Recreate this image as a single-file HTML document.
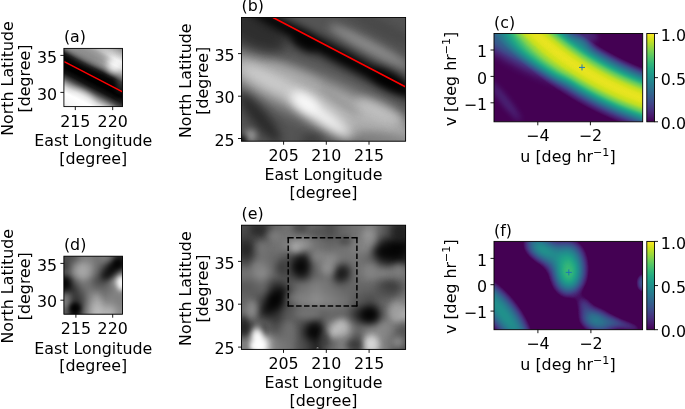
<!DOCTYPE html>
<html><head><meta charset="utf-8"><title>figure</title>
<style>html,body{margin:0;padding:0;background:#fff}svg{display:block}
text{font-family:"DejaVu Sans","Liberation Sans",sans-serif;font-size:15.85px;fill:#000}
.c{text-anchor:middle}.r{text-anchor:end}
.fr{fill:none;stroke:#000;stroke-width:0.9}
.tk{stroke:#000;stroke-width:0.9;fill:none}
</style></head><body>
<svg width="685" height="409" viewBox="0 0 685 409">
<rect width="685" height="409" fill="#fff"/>
<defs>
<filter id="vir" color-interpolation-filters="sRGB" x="0" y="0" width="1" height="1"><feComponentTransfer><feFuncR type="table" tableValues="0.267 0.283 0.277 0.254 0.222 0.191 0.164 0.139 0.121 0.135 0.208 0.328 0.478 0.647 0.825 0.993"/><feFuncG type="table" tableValues="0.005 0.100 0.185 0.265 0.339 0.407 0.471 0.534 0.596 0.659 0.719 0.774 0.821 0.858 0.885 0.906"/><feFuncB type="table" tableValues="0.329 0.422 0.490 0.530 0.549 0.556 0.558 0.555 0.544 0.518 0.473 0.407 0.318 0.210 0.106 0.144"/></feComponentTransfer></filter>
<filter id="virt" color-interpolation-filters="sRGB" x="0" y="0" width="1" height="1"><feComponentTransfer><feFuncR type="table" tableValues="0.267 0.267 0.267 0.267 0.267 0.267 0.283 0.277 0.254 0.222 0.191 0.164 0.139 0.121 0.135 0.208 0.328 0.478 0.647 0.825 0.993"/><feFuncG type="table" tableValues="0.005 0.005 0.005 0.005 0.005 0.005 0.100 0.185 0.265 0.339 0.407 0.471 0.534 0.596 0.659 0.719 0.774 0.821 0.858 0.885 0.906"/><feFuncB type="table" tableValues="0.329 0.329 0.329 0.329 0.329 0.329 0.422 0.490 0.530 0.549 0.556 0.558 0.555 0.544 0.518 0.473 0.407 0.318 0.210 0.106 0.144"/></feComponentTransfer></filter>
<filter id="b2" color-interpolation-filters="sRGB" x="-1" y="-1" width="3" height="3"><feGaussianBlur stdDeviation="2"/></filter>
<filter id="b3" color-interpolation-filters="sRGB" x="-1" y="-1" width="3" height="3"><feGaussianBlur stdDeviation="3"/></filter>
<filter id="b4" color-interpolation-filters="sRGB" x="-1" y="-1" width="3" height="3"><feGaussianBlur stdDeviation="4"/></filter>
<filter id="b5" color-interpolation-filters="sRGB" x="-1" y="-1" width="3" height="3"><feGaussianBlur stdDeviation="5"/></filter>
<filter id="b6" color-interpolation-filters="sRGB" x="-1" y="-1" width="3" height="3"><feGaussianBlur stdDeviation="6"/></filter>
<filter id="b7" color-interpolation-filters="sRGB" x="-1" y="-1" width="3" height="3"><feGaussianBlur stdDeviation="7"/></filter>
<filter id="b8" color-interpolation-filters="sRGB" x="-1" y="-1" width="3" height="3"><feGaussianBlur stdDeviation="8"/></filter>
<filter id="b9" color-interpolation-filters="sRGB" x="-1" y="-1" width="3" height="3"><feGaussianBlur stdDeviation="9"/></filter>
<filter id="b10" color-interpolation-filters="sRGB" x="-1" y="-1" width="3" height="3"><feGaussianBlur stdDeviation="10"/></filter>
<filter id="b12" color-interpolation-filters="sRGB" x="-1" y="-1" width="3" height="3"><feGaussianBlur stdDeviation="12"/></filter>
<clipPath id="cpa"><rect x="63.9" y="48.4" width="58.6" height="58.2"/></clipPath>
<clipPath id="cpb"><rect x="241.5" y="17.5" width="164.1" height="123.7"/></clipPath>
<clipPath id="cpc"><rect x="494" y="33.5" width="148.7" height="88.3"/></clipPath>
<clipPath id="cpd"><rect x="63.9" y="256.2" width="58.6" height="58"/></clipPath>
<clipPath id="cpe"><rect x="241.5" y="225.2" width="164.1" height="124.2"/></clipPath>
<clipPath id="cpf"><rect x="494" y="241.4" width="148.6" height="88.3"/></clipPath>
<linearGradient id="ga" gradientUnits="userSpaceOnUse" x1="71.35" y1="119.44" x2="114.53" y2="35.94"><stop offset="0.0000" stop-color="#adadad"/><stop offset="0.0638" stop-color="#d9d9d9"/><stop offset="0.1277" stop-color="#f7f7f7"/><stop offset="0.2234" stop-color="#ffffff"/><stop offset="0.2766" stop-color="#d9d9d9"/><stop offset="0.3191" stop-color="#999999"/><stop offset="0.3617" stop-color="#4c4c4c"/><stop offset="0.4043" stop-color="#141414"/><stop offset="0.4574" stop-color="#000000"/><stop offset="0.5106" stop-color="#000000"/><stop offset="0.5638" stop-color="#080808"/><stop offset="0.5957" stop-color="#1a1a1a"/><stop offset="0.6383" stop-color="#737373"/><stop offset="0.6809" stop-color="#bfbfbf"/><stop offset="0.7234" stop-color="#f2f2f2"/><stop offset="0.7872" stop-color="#f2f2f2"/><stop offset="0.8511" stop-color="#bfbfbf"/><stop offset="0.9149" stop-color="#8c8c8c"/><stop offset="1.0000" stop-color="#737373"/></linearGradient>
<radialGradient id="gc" gradientUnits="userSpaceOnUse" cx="742.9" cy="-189.2" r="364.7"><stop offset="0.67096" stop-color="#000000"/><stop offset="0.75596" stop-color="#000000"/><stop offset="0.76419" stop-color="#1f1f1f"/><stop offset="0.77104" stop-color="#404040"/><stop offset="0.78613" stop-color="#808080"/><stop offset="0.80121" stop-color="#bfbfbf"/><stop offset="0.81492" stop-color="#e6e6e6"/><stop offset="0.82588" stop-color="#f4f4f4"/><stop offset="0.83548" stop-color="#f7f7f7"/><stop offset="0.84508" stop-color="#f4f4f4"/><stop offset="0.85742" stop-color="#e6e6e6"/><stop offset="0.87113" stop-color="#bfbfbf"/><stop offset="0.88566" stop-color="#808080"/><stop offset="0.89992" stop-color="#404040"/><stop offset="0.90814" stop-color="#1f1f1f"/><stop offset="0.91911" stop-color="#000000"/><stop offset="1.00000" stop-color="#000000"/></radialGradient>
<linearGradient id="gcb" x1="0" y1="1" x2="0" y2="0"><stop offset="0" stop-color="#000"/><stop offset="1" stop-color="#fff"/></linearGradient>
</defs>
<g clip-path="url(#cpa)"><rect x="62.9" y="47.4" width="60.6" height="60.2" fill="url(#ga)"/><g transform="translate(63.9,48.4)"><ellipse cx="24" cy="4" rx="25" ry="9" transform="rotate(27 24 4)" fill="#787878" opacity="0.8" filter="url(#b4)"/>
<ellipse cx="57" cy="30" rx="3" ry="14" transform="rotate(0 57 30)" fill="#8c8c8c" opacity="0.5" filter="url(#b3)"/>
<ellipse cx="50" cy="18" rx="6" ry="7" transform="rotate(20 50 18)" fill="#ffffff" opacity="0.6" filter="url(#b3)"/>
<ellipse cx="18" cy="50" rx="12" ry="7" transform="rotate(27 18 50)" fill="#ffffff" opacity="0.5" filter="url(#b3)"/>
<ellipse cx="57" cy="57" rx="5" ry="5" transform="rotate(0 57 57)" fill="#333333" opacity="0.5" filter="url(#b3)"/>
</g></g>
<g clip-path="url(#cpa)"><line x1="64.2" y1="61.7" x2="122.6" y2="91.9" stroke="#f00" stroke-width="1.5"/></g>
<rect class="fr" x="63.9" y="48.4" width="58.6" height="58.2"/>
<line class="tk" x1="75.3" y1="106.6" x2="75.3" y2="110.1"/>
<text class="c" x="75.3" y="126.7">215</text>
<line class="tk" x1="112.7" y1="106.6" x2="112.7" y2="110.1"/>
<text class="c" x="112.7" y="126.7">220</text>
<line class="tk" x1="60.4" y1="55.4" x2="63.9" y2="55.4"/>
<text class="r" x="57.1" y="62.6">35</text>
<line class="tk" x1="60.4" y1="92.4" x2="63.9" y2="92.4"/>
<text class="r" x="57.1" y="99.6">30</text>
<text x="63.9" y="42.1">(a)</text>
<text class="c" x="93.3" y="146.1">East Longitude</text>
<text class="c" x="93.3" y="163.8">[degree]</text>
<text class="c" transform="translate(12.5,78.5) rotate(-90)">North Latitude</text>
<text class="c" transform="translate(29.6,78.5) rotate(-90)">[degree]</text>
<g clip-path="url(#cpb)"><rect x="240.5" y="16.5" width="166.1" height="125.7" fill="#545454"/><g transform="translate(241.5,17.5)"><ellipse cx="80" cy="84" rx="115" ry="21" transform="rotate(23 80 84)" fill="#b8b8b8" opacity="0.92" filter="url(#b8)"/>
<ellipse cx="128" cy="29" rx="46" ry="6.5" transform="rotate(27.7 128 29)" fill="#949494" opacity="0.85" filter="url(#b4)"/>
<ellipse cx="140" cy="10" rx="44" ry="7" transform="rotate(27.7 140 10)" fill="#404040" opacity="0.6" filter="url(#b5)"/>
<ellipse cx="12" cy="12" rx="36" ry="17" transform="rotate(27.7 12 12)" fill="#2b2b2b" opacity="0.9" filter="url(#b6)"/>
<ellipse cx="30" cy="64" rx="36" ry="8" transform="rotate(27 30 64)" fill="#d9d9d9" opacity="0.7" filter="url(#b6)"/>
<ellipse cx="80" cy="98" rx="38" ry="8" transform="rotate(36 80 98)" fill="#ffffff" opacity="0.9" filter="url(#b6)"/>
<ellipse cx="64" cy="85" rx="14" ry="8" transform="rotate(32 64 85)" fill="#ffffff" opacity="0.7" filter="url(#b5)"/>
<ellipse cx="53" cy="56" rx="30" ry="4" transform="rotate(22 53 56)" fill="#b8b8b8" opacity="0.5" filter="url(#b4)"/>
<ellipse cx="138" cy="94" rx="26" ry="8" transform="rotate(25 138 94)" fill="#cccccc" opacity="0.75" filter="url(#b5)"/>
<ellipse cx="98" cy="84" rx="24" ry="3" transform="rotate(33 98 84)" fill="#737373" opacity="0.4" filter="url(#b3)"/>
<ellipse cx="100" cy="39.5" rx="115" ry="8" transform="rotate(27.7 100 39.5)" fill="#000000" opacity="0.97" filter="url(#b4)"/>
<ellipse cx="63" cy="26" rx="14" ry="7" transform="rotate(27.7 63 26)" fill="#000000" opacity="0.8" filter="url(#b4)"/>
<ellipse cx="148" cy="63" rx="20" ry="8" transform="rotate(27.7 148 63)" fill="#000000" opacity="0.85" filter="url(#b4)"/>
<ellipse cx="18" cy="100" rx="32" ry="8" transform="rotate(50 18 100)" fill="#262626" opacity="0.9" filter="url(#b5)"/>
<ellipse cx="9" cy="118" rx="6" ry="6" transform="rotate(0 9 118)" fill="#a6a6a6" opacity="0.8" filter="url(#b3)"/>
<ellipse cx="0" cy="123" rx="5" ry="5" transform="rotate(0 0 123)" fill="#000000" opacity="0.95" filter="url(#b3)"/>
<ellipse cx="70" cy="122" rx="11" ry="5" transform="rotate(0 70 122)" fill="#333333" opacity="0.75" filter="url(#b4)"/>
<ellipse cx="145" cy="121" rx="28" ry="6" transform="rotate(8 145 121)" fill="#6b6b6b" opacity="0.6" filter="url(#b5)"/>
</g></g>
<g clip-path="url(#cpb)"><line x1="273" y1="17.5" x2="405.3" y2="86.7" stroke="#f00" stroke-width="1.6"/></g>
<rect class="fr" x="241.5" y="17.5" width="164.1" height="123.7"/>
<line class="tk" x1="283.6" y1="141.2" x2="283.6" y2="144.7"/>
<text class="c" x="283.6" y="160.8">205</text>
<line class="tk" x1="326.3" y1="141.2" x2="326.3" y2="144.7"/>
<text class="c" x="326.3" y="160.8">210</text>
<line class="tk" x1="369" y1="141.2" x2="369" y2="144.7"/>
<text class="c" x="369" y="160.8">215</text>
<line class="tk" x1="238" y1="53.6" x2="241.5" y2="53.6"/>
<text class="r" x="234.7" y="60.8">35</text>
<line class="tk" x1="238" y1="96.2" x2="241.5" y2="96.2"/>
<text class="r" x="234.7" y="103.4">30</text>
<line class="tk" x1="238" y1="138.5" x2="241.5" y2="138.5"/>
<text class="r" x="234.7" y="145.7">25</text>
<text x="241.5" y="11.4">(b)</text>
<text class="c" x="323.4" y="180">East Longitude</text>
<text class="c" x="323.4" y="197.8">[degree]</text>
<text class="c" transform="translate(190.6,80.7) rotate(-90)">North Latitude</text>
<text class="c" transform="translate(207.8,80.7) rotate(-90)">[degree]</text>
<g clip-path="url(#cpc)"><g filter="url(#vir)"><rect x="493" y="32.5" width="150.7" height="90.3" fill="url(#gc)"/><g transform="translate(494,33.5)"><ellipse cx="28" cy="12.9893" rx="52" ry="5" transform="rotate(27.7 28 12.9893)" fill="#ffffff" opacity="0.42" filter="url(#b6)"/>
<ellipse cx="26" cy="22.1035" rx="52" ry="7" transform="rotate(27.7 26 22.1035)" fill="#ffffff" opacity="0.3" filter="url(#b6)"/>
<ellipse cx="11" cy="67.5" rx="25" ry="3" transform="rotate(52 11 67.5)" fill="#ffffff" opacity="0.13" filter="url(#b3)"/>
<ellipse cx="89" cy="6.5" rx="10" ry="4" transform="rotate(36 89 6.5)" fill="#ffffff" opacity="0.3" filter="url(#b4)"/>
<ellipse cx="98" cy="1.5" rx="8" ry="3" transform="rotate(30 98 1.5)" fill="#ffffff" opacity="0.08" filter="url(#b2)"/>
</g></g></g>
<path d="M579 67.4h6M582 64.4v6" stroke="#1f77b4" stroke-width="1" fill="none"/>
<rect class="fr" x="494" y="33.5" width="148.7" height="88.3"/>
<line class="tk" x1="537.8" y1="121.8" x2="537.8" y2="125.3"/>
<text class="c" x="537.8" y="141">−4</text>
<line class="tk" x1="590.4" y1="121.8" x2="590.4" y2="125.3"/>
<text class="c" x="590.4" y="141">−2</text>
<line class="tk" x1="490.5" y1="50" x2="494" y2="50"/>
<text class="r" x="487.2" y="57.2">1</text>
<line class="tk" x1="490.5" y1="76.4" x2="494" y2="76.4"/>
<text class="r" x="487.2" y="83.6">0</text>
<line class="tk" x1="490.5" y1="102.8" x2="494" y2="102.8"/>
<text class="r" x="487.2" y="110">−1</text>
<text x="494" y="28">(c)</text>
<text class="c" x="568" y="162">u [deg hr<tspan dy="-6.2" font-size="11.1px">−1</tspan><tspan dy="6.2">]</tspan></text>
<text class="c" transform="translate(456.3,79) rotate(-90)">v [deg hr<tspan dy="-6.2" font-size="11.1px">−1</tspan><tspan dy="6.2">]</tspan></text>
<g filter="url(#vir)"><rect x="646.8" y="33.5" width="7.7" height="88.3" fill="url(#gcb)"/></g>
<rect class="fr" x="646.8" y="33.5" width="7.7" height="88.3"/>
<line class="tk" x1="654.5" y1="33.5" x2="658" y2="33.5"/>
<text x="660.8" y="41">1.0</text>
<line class="tk" x1="654.5" y1="77.65" x2="658" y2="77.65"/>
<text x="660.8" y="85.15">0.5</text>
<line class="tk" x1="654.5" y1="121.8" x2="658" y2="121.8"/>
<text x="660.8" y="129.3">0.0</text>
<g clip-path="url(#cpd)"><rect x="62.9" y="255.2" width="60.6" height="60" fill="#6b6b6b"/><g filter="url(#b3)"><rect x="56.3" y="248.6" width="7.9" height="7.8" fill="#4c4c4c"/><rect x="63.6" y="248.6" width="7.9" height="7.8" fill="#4c4c4c"/><rect x="70.9" y="248.6" width="7.9" height="7.8" fill="#595959"/><rect x="78.2" y="248.6" width="7.9" height="7.8" fill="#808080"/><rect x="85.6" y="248.6" width="7.9" height="7.8" fill="#808080"/><rect x="92.9" y="248.6" width="7.9" height="7.8" fill="#737373"/><rect x="100.2" y="248.6" width="7.9" height="7.8" fill="#808080"/><rect x="107.5" y="248.6" width="7.9" height="7.8" fill="#666666"/><rect x="114.9" y="248.6" width="7.9" height="7.8" fill="#262626"/><rect x="122.2" y="248.6" width="7.9" height="7.8" fill="#262626"/><rect x="56.3" y="255.9" width="7.9" height="7.8" fill="#4c4c4c"/><rect x="63.6" y="255.9" width="7.9" height="7.8" fill="#4c4c4c"/><rect x="70.9" y="255.9" width="7.9" height="7.8" fill="#595959"/><rect x="78.2" y="255.9" width="7.9" height="7.8" fill="#808080"/><rect x="85.6" y="255.9" width="7.9" height="7.8" fill="#808080"/><rect x="92.9" y="255.9" width="7.9" height="7.8" fill="#737373"/><rect x="100.2" y="255.9" width="7.9" height="7.8" fill="#808080"/><rect x="107.5" y="255.9" width="7.9" height="7.8" fill="#666666"/><rect x="114.9" y="255.9" width="7.9" height="7.8" fill="#262626"/><rect x="122.2" y="255.9" width="7.9" height="7.8" fill="#262626"/><rect x="56.3" y="263.1" width="7.9" height="7.8" fill="#404040"/><rect x="63.6" y="263.1" width="7.9" height="7.8" fill="#404040"/><rect x="70.9" y="263.1" width="7.9" height="7.8" fill="#8c8c8c"/><rect x="78.2" y="263.1" width="7.9" height="7.8" fill="#a6a6a6"/><rect x="85.6" y="263.1" width="7.9" height="7.8" fill="#999999"/><rect x="92.9" y="263.1" width="7.9" height="7.8" fill="#737373"/><rect x="100.2" y="263.1" width="7.9" height="7.8" fill="#4c4c4c"/><rect x="107.5" y="263.1" width="7.9" height="7.8" fill="#1a1a1a"/><rect x="114.9" y="263.1" width="7.9" height="7.8" fill="#262626"/><rect x="122.2" y="263.1" width="7.9" height="7.8" fill="#262626"/><rect x="56.3" y="270.4" width="7.9" height="7.8" fill="#595959"/><rect x="63.6" y="270.4" width="7.9" height="7.8" fill="#595959"/><rect x="70.9" y="270.4" width="7.9" height="7.8" fill="#8c8c8c"/><rect x="78.2" y="270.4" width="7.9" height="7.8" fill="#a6a6a6"/><rect x="85.6" y="270.4" width="7.9" height="7.8" fill="#8c8c8c"/><rect x="92.9" y="270.4" width="7.9" height="7.8" fill="#666666"/><rect x="100.2" y="270.4" width="7.9" height="7.8" fill="#333333"/><rect x="107.5" y="270.4" width="7.9" height="7.8" fill="#4c4c4c"/><rect x="114.9" y="270.4" width="7.9" height="7.8" fill="#808080"/><rect x="122.2" y="270.4" width="7.9" height="7.8" fill="#808080"/><rect x="56.3" y="277.6" width="7.9" height="7.8" fill="#0d0d0d"/><rect x="63.6" y="277.6" width="7.9" height="7.8" fill="#0d0d0d"/><rect x="70.9" y="277.6" width="7.9" height="7.8" fill="#595959"/><rect x="78.2" y="277.6" width="7.9" height="7.8" fill="#808080"/><rect x="85.6" y="277.6" width="7.9" height="7.8" fill="#737373"/><rect x="92.9" y="277.6" width="7.9" height="7.8" fill="#4c4c4c"/><rect x="100.2" y="277.6" width="7.9" height="7.8" fill="#4c4c4c"/><rect x="107.5" y="277.6" width="7.9" height="7.8" fill="#737373"/><rect x="114.9" y="277.6" width="7.9" height="7.8" fill="#d9d9d9"/><rect x="122.2" y="277.6" width="7.9" height="7.8" fill="#d9d9d9"/><rect x="56.3" y="284.9" width="7.9" height="7.8" fill="#1a1a1a"/><rect x="63.6" y="284.9" width="7.9" height="7.8" fill="#1a1a1a"/><rect x="70.9" y="284.9" width="7.9" height="7.8" fill="#333333"/><rect x="78.2" y="284.9" width="7.9" height="7.8" fill="#666666"/><rect x="85.6" y="284.9" width="7.9" height="7.8" fill="#737373"/><rect x="92.9" y="284.9" width="7.9" height="7.8" fill="#666666"/><rect x="100.2" y="284.9" width="7.9" height="7.8" fill="#666666"/><rect x="107.5" y="284.9" width="7.9" height="7.8" fill="#737373"/><rect x="114.9" y="284.9" width="7.9" height="7.8" fill="#999999"/><rect x="122.2" y="284.9" width="7.9" height="7.8" fill="#999999"/><rect x="56.3" y="292.1" width="7.9" height="7.8" fill="#737373"/><rect x="63.6" y="292.1" width="7.9" height="7.8" fill="#737373"/><rect x="70.9" y="292.1" width="7.9" height="7.8" fill="#333333"/><rect x="78.2" y="292.1" width="7.9" height="7.8" fill="#4c4c4c"/><rect x="85.6" y="292.1" width="7.9" height="7.8" fill="#808080"/><rect x="92.9" y="292.1" width="7.9" height="7.8" fill="#999999"/><rect x="100.2" y="292.1" width="7.9" height="7.8" fill="#737373"/><rect x="107.5" y="292.1" width="7.9" height="7.8" fill="#808080"/><rect x="114.9" y="292.1" width="7.9" height="7.8" fill="#808080"/><rect x="122.2" y="292.1" width="7.9" height="7.8" fill="#808080"/><rect x="56.3" y="299.4" width="7.9" height="7.8" fill="#808080"/><rect x="63.6" y="299.4" width="7.9" height="7.8" fill="#808080"/><rect x="70.9" y="299.4" width="7.9" height="7.8" fill="#262626"/><rect x="78.2" y="299.4" width="7.9" height="7.8" fill="#404040"/><rect x="85.6" y="299.4" width="7.9" height="7.8" fill="#8c8c8c"/><rect x="92.9" y="299.4" width="7.9" height="7.8" fill="#a6a6a6"/><rect x="100.2" y="299.4" width="7.9" height="7.8" fill="#8c8c8c"/><rect x="107.5" y="299.4" width="7.9" height="7.8" fill="#8c8c8c"/><rect x="114.9" y="299.4" width="7.9" height="7.8" fill="#808080"/><rect x="122.2" y="299.4" width="7.9" height="7.8" fill="#808080"/><rect x="56.3" y="306.6" width="7.9" height="7.8" fill="#595959"/><rect x="63.6" y="306.6" width="7.9" height="7.8" fill="#595959"/><rect x="70.9" y="306.6" width="7.9" height="7.8" fill="#000000"/><rect x="78.2" y="306.6" width="7.9" height="7.8" fill="#4c4c4c"/><rect x="85.6" y="306.6" width="7.9" height="7.8" fill="#999999"/><rect x="92.9" y="306.6" width="7.9" height="7.8" fill="#bfbfbf"/><rect x="100.2" y="306.6" width="7.9" height="7.8" fill="#b2b2b2"/><rect x="107.5" y="306.6" width="7.9" height="7.8" fill="#b2b2b2"/><rect x="114.9" y="306.6" width="7.9" height="7.8" fill="#8c8c8c"/><rect x="122.2" y="306.6" width="7.9" height="7.8" fill="#8c8c8c"/><rect x="56.3" y="313.9" width="7.9" height="7.8" fill="#595959"/><rect x="63.6" y="313.9" width="7.9" height="7.8" fill="#595959"/><rect x="70.9" y="313.9" width="7.9" height="7.8" fill="#000000"/><rect x="78.2" y="313.9" width="7.9" height="7.8" fill="#4c4c4c"/><rect x="85.6" y="313.9" width="7.9" height="7.8" fill="#999999"/><rect x="92.9" y="313.9" width="7.9" height="7.8" fill="#bfbfbf"/><rect x="100.2" y="313.9" width="7.9" height="7.8" fill="#b2b2b2"/><rect x="107.5" y="313.9" width="7.9" height="7.8" fill="#b2b2b2"/><rect x="114.9" y="313.9" width="7.9" height="7.8" fill="#8c8c8c"/><rect x="122.2" y="313.9" width="7.9" height="7.8" fill="#8c8c8c"/></g><g transform="translate(63.9,256.2)"><ellipse cx="19.7" cy="16.3" rx="7" ry="6" transform="rotate(0 19.7 16.3)" fill="#adadad" opacity="0.5" filter="url(#b3)"/>
<ellipse cx="48" cy="14" rx="13" ry="4.5" transform="rotate(-45 48 14)" fill="#000000" opacity="0.85" filter="url(#b3)"/>
<ellipse cx="54" cy="7" rx="5" ry="5" transform="rotate(0 54 7)" fill="#000000" opacity="0.7" filter="url(#b2)"/>
<ellipse cx="57.5" cy="27" rx="3.5" ry="7" transform="rotate(0 57.5 27)" fill="#ffffff" opacity="0.9" filter="url(#b2)"/>
<ellipse cx="1" cy="27" rx="4" ry="7" transform="rotate(0 1 27)" fill="#000000" opacity="0.9" filter="url(#b3)"/>
<ellipse cx="11.2" cy="52" rx="5.5" ry="5.5" transform="rotate(0 11.2 52)" fill="#000000" opacity="0.9" filter="url(#b2)"/>
<ellipse cx="34.4" cy="49" rx="5" ry="7" transform="rotate(0 34.4 49)" fill="#bfbfbf" opacity="0.4" filter="url(#b3)"/>
</g></g>
<rect class="fr" x="63.9" y="256.2" width="58.6" height="58"/>
<line class="tk" x1="75.9" y1="314.2" x2="75.9" y2="317.7"/>
<text class="c" x="75.9" y="334.3">215</text>
<line class="tk" x1="112.7" y1="314.2" x2="112.7" y2="317.7"/>
<text class="c" x="112.7" y="334.3">220</text>
<line class="tk" x1="60.4" y1="263.4" x2="63.9" y2="263.4"/>
<text class="r" x="57.1" y="270.6">35</text>
<line class="tk" x1="60.4" y1="300.2" x2="63.9" y2="300.2"/>
<text class="r" x="57.1" y="307.4">30</text>
<text x="63.9" y="249.9">(d)</text>
<text class="c" x="93.3" y="353.7">East Longitude</text>
<text class="c" x="93.3" y="371.4">[degree]</text>
<text class="c" transform="translate(12.5,286.2) rotate(-90)">North Latitude</text>
<text class="c" transform="translate(29.6,286.2) rotate(-90)">[degree]</text>
<g clip-path="url(#cpe)"><rect x="240.5" y="224.2" width="166.1" height="126.2" fill="#5e5e5e"/><g filter="url(#b4)"><rect x="227.5" y="211.1" width="14.3" height="14.4" fill="#4c4c4c"/><rect x="241.2" y="211.1" width="14.3" height="14.4" fill="#4c4c4c"/><rect x="254.9" y="211.1" width="14.3" height="14.4" fill="#404040"/><rect x="268.6" y="211.1" width="14.3" height="14.4" fill="#666666"/><rect x="282.2" y="211.1" width="14.3" height="14.4" fill="#737373"/><rect x="295.9" y="211.1" width="14.3" height="14.4" fill="#666666"/><rect x="309.6" y="211.1" width="14.3" height="14.4" fill="#666666"/><rect x="323.2" y="211.1" width="14.3" height="14.4" fill="#4c4c4c"/><rect x="336.9" y="211.1" width="14.3" height="14.4" fill="#666666"/><rect x="350.6" y="211.1" width="14.3" height="14.4" fill="#737373"/><rect x="364.3" y="211.1" width="14.3" height="14.4" fill="#808080"/><rect x="377.9" y="211.1" width="14.3" height="14.4" fill="#595959"/><rect x="391.6" y="211.1" width="14.3" height="14.4" fill="#333333"/><rect x="405.3" y="211.1" width="14.3" height="14.4" fill="#333333"/><rect x="227.5" y="224.9" width="14.3" height="14.4" fill="#4c4c4c"/><rect x="241.2" y="224.9" width="14.3" height="14.4" fill="#4c4c4c"/><rect x="254.9" y="224.9" width="14.3" height="14.4" fill="#404040"/><rect x="268.6" y="224.9" width="14.3" height="14.4" fill="#666666"/><rect x="282.2" y="224.9" width="14.3" height="14.4" fill="#737373"/><rect x="295.9" y="224.9" width="14.3" height="14.4" fill="#666666"/><rect x="309.6" y="224.9" width="14.3" height="14.4" fill="#666666"/><rect x="323.2" y="224.9" width="14.3" height="14.4" fill="#4c4c4c"/><rect x="336.9" y="224.9" width="14.3" height="14.4" fill="#666666"/><rect x="350.6" y="224.9" width="14.3" height="14.4" fill="#737373"/><rect x="364.3" y="224.9" width="14.3" height="14.4" fill="#808080"/><rect x="377.9" y="224.9" width="14.3" height="14.4" fill="#595959"/><rect x="391.6" y="224.9" width="14.3" height="14.4" fill="#333333"/><rect x="405.3" y="224.9" width="14.3" height="14.4" fill="#333333"/><rect x="227.5" y="238.7" width="14.3" height="14.4" fill="#404040"/><rect x="241.2" y="238.7" width="14.3" height="14.4" fill="#404040"/><rect x="254.9" y="238.7" width="14.3" height="14.4" fill="#666666"/><rect x="268.6" y="238.7" width="14.3" height="14.4" fill="#737373"/><rect x="282.2" y="238.7" width="14.3" height="14.4" fill="#808080"/><rect x="295.9" y="238.7" width="14.3" height="14.4" fill="#999999"/><rect x="309.6" y="238.7" width="14.3" height="14.4" fill="#737373"/><rect x="323.2" y="238.7" width="14.3" height="14.4" fill="#666666"/><rect x="336.9" y="238.7" width="14.3" height="14.4" fill="#737373"/><rect x="350.6" y="238.7" width="14.3" height="14.4" fill="#808080"/><rect x="364.3" y="238.7" width="14.3" height="14.4" fill="#8c8c8c"/><rect x="377.9" y="238.7" width="14.3" height="14.4" fill="#262626"/><rect x="391.6" y="238.7" width="14.3" height="14.4" fill="#0d0d0d"/><rect x="405.3" y="238.7" width="14.3" height="14.4" fill="#0d0d0d"/><rect x="227.5" y="252.5" width="14.3" height="14.4" fill="#4c4c4c"/><rect x="241.2" y="252.5" width="14.3" height="14.4" fill="#4c4c4c"/><rect x="254.9" y="252.5" width="14.3" height="14.4" fill="#737373"/><rect x="268.6" y="252.5" width="14.3" height="14.4" fill="#666666"/><rect x="282.2" y="252.5" width="14.3" height="14.4" fill="#4c4c4c"/><rect x="295.9" y="252.5" width="14.3" height="14.4" fill="#1a1a1a"/><rect x="309.6" y="252.5" width="14.3" height="14.4" fill="#737373"/><rect x="323.2" y="252.5" width="14.3" height="14.4" fill="#8c8c8c"/><rect x="336.9" y="252.5" width="14.3" height="14.4" fill="#737373"/><rect x="350.6" y="252.5" width="14.3" height="14.4" fill="#737373"/><rect x="364.3" y="252.5" width="14.3" height="14.4" fill="#666666"/><rect x="377.9" y="252.5" width="14.3" height="14.4" fill="#333333"/><rect x="391.6" y="252.5" width="14.3" height="14.4" fill="#262626"/><rect x="405.3" y="252.5" width="14.3" height="14.4" fill="#262626"/><rect x="227.5" y="266.3" width="14.3" height="14.4" fill="#737373"/><rect x="241.2" y="266.3" width="14.3" height="14.4" fill="#737373"/><rect x="254.9" y="266.3" width="14.3" height="14.4" fill="#8c8c8c"/><rect x="268.6" y="266.3" width="14.3" height="14.4" fill="#666666"/><rect x="282.2" y="266.3" width="14.3" height="14.4" fill="#4c4c4c"/><rect x="295.9" y="266.3" width="14.3" height="14.4" fill="#262626"/><rect x="309.6" y="266.3" width="14.3" height="14.4" fill="#666666"/><rect x="323.2" y="266.3" width="14.3" height="14.4" fill="#737373"/><rect x="336.9" y="266.3" width="14.3" height="14.4" fill="#333333"/><rect x="350.6" y="266.3" width="14.3" height="14.4" fill="#737373"/><rect x="364.3" y="266.3" width="14.3" height="14.4" fill="#808080"/><rect x="377.9" y="266.3" width="14.3" height="14.4" fill="#808080"/><rect x="391.6" y="266.3" width="14.3" height="14.4" fill="#737373"/><rect x="405.3" y="266.3" width="14.3" height="14.4" fill="#737373"/><rect x="227.5" y="280.1" width="14.3" height="14.4" fill="#595959"/><rect x="241.2" y="280.1" width="14.3" height="14.4" fill="#595959"/><rect x="254.9" y="280.1" width="14.3" height="14.4" fill="#666666"/><rect x="268.6" y="280.1" width="14.3" height="14.4" fill="#333333"/><rect x="282.2" y="280.1" width="14.3" height="14.4" fill="#595959"/><rect x="295.9" y="280.1" width="14.3" height="14.4" fill="#737373"/><rect x="309.6" y="280.1" width="14.3" height="14.4" fill="#808080"/><rect x="323.2" y="280.1" width="14.3" height="14.4" fill="#737373"/><rect x="336.9" y="280.1" width="14.3" height="14.4" fill="#666666"/><rect x="350.6" y="280.1" width="14.3" height="14.4" fill="#666666"/><rect x="364.3" y="280.1" width="14.3" height="14.4" fill="#666666"/><rect x="377.9" y="280.1" width="14.3" height="14.4" fill="#4c4c4c"/><rect x="391.6" y="280.1" width="14.3" height="14.4" fill="#666666"/><rect x="405.3" y="280.1" width="14.3" height="14.4" fill="#666666"/><rect x="227.5" y="293.9" width="14.3" height="14.4" fill="#666666"/><rect x="241.2" y="293.9" width="14.3" height="14.4" fill="#666666"/><rect x="254.9" y="293.9" width="14.3" height="14.4" fill="#4c4c4c"/><rect x="268.6" y="293.9" width="14.3" height="14.4" fill="#0d0d0d"/><rect x="282.2" y="293.9" width="14.3" height="14.4" fill="#4c4c4c"/><rect x="295.9" y="293.9" width="14.3" height="14.4" fill="#808080"/><rect x="309.6" y="293.9" width="14.3" height="14.4" fill="#8c8c8c"/><rect x="323.2" y="293.9" width="14.3" height="14.4" fill="#808080"/><rect x="336.9" y="293.9" width="14.3" height="14.4" fill="#737373"/><rect x="350.6" y="293.9" width="14.3" height="14.4" fill="#595959"/><rect x="364.3" y="293.9" width="14.3" height="14.4" fill="#4c4c4c"/><rect x="377.9" y="293.9" width="14.3" height="14.4" fill="#666666"/><rect x="391.6" y="293.9" width="14.3" height="14.4" fill="#808080"/><rect x="405.3" y="293.9" width="14.3" height="14.4" fill="#808080"/><rect x="227.5" y="307.7" width="14.3" height="14.4" fill="#737373"/><rect x="241.2" y="307.7" width="14.3" height="14.4" fill="#737373"/><rect x="254.9" y="307.7" width="14.3" height="14.4" fill="#4c4c4c"/><rect x="268.6" y="307.7" width="14.3" height="14.4" fill="#333333"/><rect x="282.2" y="307.7" width="14.3" height="14.4" fill="#595959"/><rect x="295.9" y="307.7" width="14.3" height="14.4" fill="#595959"/><rect x="309.6" y="307.7" width="14.3" height="14.4" fill="#595959"/><rect x="323.2" y="307.7" width="14.3" height="14.4" fill="#666666"/><rect x="336.9" y="307.7" width="14.3" height="14.4" fill="#666666"/><rect x="350.6" y="307.7" width="14.3" height="14.4" fill="#333333"/><rect x="364.3" y="307.7" width="14.3" height="14.4" fill="#0d0d0d"/><rect x="377.9" y="307.7" width="14.3" height="14.4" fill="#666666"/><rect x="391.6" y="307.7" width="14.3" height="14.4" fill="#b2b2b2"/><rect x="405.3" y="307.7" width="14.3" height="14.4" fill="#b2b2b2"/><rect x="227.5" y="321.5" width="14.3" height="14.4" fill="#333333"/><rect x="241.2" y="321.5" width="14.3" height="14.4" fill="#333333"/><rect x="254.9" y="321.5" width="14.3" height="14.4" fill="#808080"/><rect x="268.6" y="321.5" width="14.3" height="14.4" fill="#4c4c4c"/><rect x="282.2" y="321.5" width="14.3" height="14.4" fill="#737373"/><rect x="295.9" y="321.5" width="14.3" height="14.4" fill="#4c4c4c"/><rect x="309.6" y="321.5" width="14.3" height="14.4" fill="#1a1a1a"/><rect x="323.2" y="321.5" width="14.3" height="14.4" fill="#808080"/><rect x="336.9" y="321.5" width="14.3" height="14.4" fill="#b2b2b2"/><rect x="350.6" y="321.5" width="14.3" height="14.4" fill="#666666"/><rect x="364.3" y="321.5" width="14.3" height="14.4" fill="#808080"/><rect x="377.9" y="321.5" width="14.3" height="14.4" fill="#8c8c8c"/><rect x="391.6" y="321.5" width="14.3" height="14.4" fill="#666666"/><rect x="405.3" y="321.5" width="14.3" height="14.4" fill="#666666"/><rect x="227.5" y="335.3" width="14.3" height="14.4" fill="#808080"/><rect x="241.2" y="335.3" width="14.3" height="14.4" fill="#808080"/><rect x="254.9" y="335.3" width="14.3" height="14.4" fill="#f2f2f2"/><rect x="268.6" y="335.3" width="14.3" height="14.4" fill="#808080"/><rect x="282.2" y="335.3" width="14.3" height="14.4" fill="#737373"/><rect x="295.9" y="335.3" width="14.3" height="14.4" fill="#4c4c4c"/><rect x="309.6" y="335.3" width="14.3" height="14.4" fill="#262626"/><rect x="323.2" y="335.3" width="14.3" height="14.4" fill="#666666"/><rect x="336.9" y="335.3" width="14.3" height="14.4" fill="#808080"/><rect x="350.6" y="335.3" width="14.3" height="14.4" fill="#4c4c4c"/><rect x="364.3" y="335.3" width="14.3" height="14.4" fill="#bfbfbf"/><rect x="377.9" y="335.3" width="14.3" height="14.4" fill="#808080"/><rect x="391.6" y="335.3" width="14.3" height="14.4" fill="#4c4c4c"/><rect x="405.3" y="335.3" width="14.3" height="14.4" fill="#4c4c4c"/><rect x="227.5" y="349.1" width="14.3" height="14.4" fill="#808080"/><rect x="241.2" y="349.1" width="14.3" height="14.4" fill="#808080"/><rect x="254.9" y="349.1" width="14.3" height="14.4" fill="#f2f2f2"/><rect x="268.6" y="349.1" width="14.3" height="14.4" fill="#808080"/><rect x="282.2" y="349.1" width="14.3" height="14.4" fill="#737373"/><rect x="295.9" y="349.1" width="14.3" height="14.4" fill="#4c4c4c"/><rect x="309.6" y="349.1" width="14.3" height="14.4" fill="#262626"/><rect x="323.2" y="349.1" width="14.3" height="14.4" fill="#666666"/><rect x="336.9" y="349.1" width="14.3" height="14.4" fill="#808080"/><rect x="350.6" y="349.1" width="14.3" height="14.4" fill="#4c4c4c"/><rect x="364.3" y="349.1" width="14.3" height="14.4" fill="#bfbfbf"/><rect x="377.9" y="349.1" width="14.3" height="14.4" fill="#808080"/><rect x="391.6" y="349.1" width="14.3" height="14.4" fill="#4c4c4c"/><rect x="405.3" y="349.1" width="14.3" height="14.4" fill="#4c4c4c"/></g><g transform="translate(241.5,225.2)"><ellipse cx="16.5" cy="4.8" rx="9" ry="5" transform="rotate(0 16.5 4.8)" fill="#1f1f1f" opacity="0.9" filter="url(#b4)"/>
<ellipse cx="4.5" cy="24.8" rx="6" ry="10" transform="rotate(0 4.5 24.8)" fill="#1f1f1f" opacity="0.9" filter="url(#b4)"/>
<ellipse cx="58.5" cy="41.8" rx="9" ry="8" transform="rotate(0 58.5 41.8)" fill="#000000" opacity="0.85" filter="url(#b4)"/>
<ellipse cx="40.5" cy="42.8" rx="6" ry="8" transform="rotate(0 40.5 42.8)" fill="#383838" opacity="0.8" filter="url(#b3)"/>
<ellipse cx="54" cy="21.8" rx="5" ry="5" transform="rotate(0 54 21.8)" fill="#b2b2b2" opacity="0.85" filter="url(#b3)"/>
<ellipse cx="15.5" cy="41.8" rx="5" ry="6" transform="rotate(0 15.5 41.8)" fill="#858585" opacity="0.7" filter="url(#b3)"/>
<ellipse cx="33.5" cy="10.8" rx="8" ry="5" transform="rotate(0 33.5 10.8)" fill="#858585" opacity="0.7" filter="url(#b3)"/>
<ellipse cx="76.5" cy="6.8" rx="8" ry="5" transform="rotate(0 76.5 6.8)" fill="#4c4c4c" opacity="0.6" filter="url(#b3)"/>
<ellipse cx="20.5" cy="22.8" rx="6" ry="6" transform="rotate(0 20.5 22.8)" fill="#808080" opacity="0.5" filter="url(#b3)"/>
<ellipse cx="147.5" cy="26.8" rx="17" ry="9" transform="rotate(0 147.5 26.8)" fill="#000000" opacity="0.85" filter="url(#b4)"/>
<ellipse cx="158.5" cy="6.8" rx="9" ry="8" transform="rotate(0 158.5 6.8)" fill="#1f1f1f" opacity="0.9" filter="url(#b4)"/>
<ellipse cx="126.5" cy="9.8" rx="6" ry="6" transform="rotate(0 126.5 9.8)" fill="#999999" opacity="0.8" filter="url(#b3)"/>
<ellipse cx="128.5" cy="45.8" rx="6" ry="7" transform="rotate(0 128.5 45.8)" fill="#858585" opacity="0.7" filter="url(#b3)"/>
<ellipse cx="99.5" cy="48.8" rx="5" ry="9" transform="rotate(30 99.5 48.8)" fill="#0d0d0d" opacity="0.95" filter="url(#b4)"/>
<ellipse cx="150.5" cy="62.8" rx="9" ry="6" transform="rotate(0 150.5 62.8)" fill="#262626" opacity="0.8" filter="url(#b4)"/>
<ellipse cx="58.5" cy="2.8" rx="8" ry="4" transform="rotate(0 58.5 2.8)" fill="#333333" opacity="0.7" filter="url(#b3)"/>
<ellipse cx="103.5" cy="15.8" rx="7" ry="4" transform="rotate(0 103.5 15.8)" fill="#383838" opacity="0.7" filter="url(#b3)"/>
<ellipse cx="85.5" cy="42.8" rx="6" ry="7" transform="rotate(0 85.5 42.8)" fill="#949494" opacity="0.8" filter="url(#b3)"/>
<ellipse cx="157.5" cy="44.8" rx="7" ry="6" transform="rotate(0 157.5 44.8)" fill="#858585" opacity="0.7" filter="url(#b3)"/>
<ellipse cx="76.5" cy="30.8" rx="7" ry="5" transform="rotate(0 76.5 30.8)" fill="#8c8c8c" opacity="0.6" filter="url(#b3)"/>
<ellipse cx="32.5" cy="75.8" rx="7" ry="19" transform="rotate(38 32.5 75.8)" fill="#000000" opacity="0.85" filter="url(#b4)"/>
<ellipse cx="22.5" cy="104.8" rx="3" ry="8" transform="rotate(-10 22.5 104.8)" fill="#1a1a1a" opacity="0.8" filter="url(#b3)"/>
<ellipse cx="16.5" cy="114.8" rx="6" ry="12" transform="rotate(-10 16.5 114.8)" fill="#ffffff" opacity="1" filter="url(#b3)"/>
<ellipse cx="15.5" cy="120.8" rx="7" ry="4" transform="rotate(0 15.5 120.8)" fill="#ffffff" opacity="0.9" filter="url(#b2)"/>
<ellipse cx="2.5" cy="100.8" rx="4" ry="11" transform="rotate(0 2.5 100.8)" fill="#1f1f1f" opacity="0.9" filter="url(#b3)"/>
<ellipse cx="10.5" cy="83.8" rx="5" ry="9" transform="rotate(0 10.5 83.8)" fill="#949494" opacity="0.8" filter="url(#b3)"/>
<ellipse cx="71.5" cy="106.8" rx="9" ry="8" transform="rotate(0 71.5 106.8)" fill="#000000" opacity="0.85" filter="url(#b4)"/>
<ellipse cx="54.5" cy="72.8" rx="9" ry="5" transform="rotate(0 54.5 72.8)" fill="#858585" opacity="0.6" filter="url(#b3)"/>
<ellipse cx="66.5" cy="88.8" rx="14" ry="5" transform="rotate(0 66.5 88.8)" fill="#858585" opacity="0.6" filter="url(#b3)"/>
<ellipse cx="43.5" cy="109.8" rx="8" ry="8" transform="rotate(0 43.5 109.8)" fill="#6b6b6b" opacity="0.5" filter="url(#b4)"/>
<ellipse cx="127.3" cy="90.3" rx="10" ry="8" transform="rotate(0 127.3 90.3)" fill="#000000" opacity="0.85" filter="url(#b4)"/>
<ellipse cx="95.5" cy="103.8" rx="6" ry="11" transform="rotate(45 95.5 103.8)" fill="#bfbfbf" opacity="0.9" filter="url(#b3)"/>
<ellipse cx="129.5" cy="118.8" rx="7" ry="7" transform="rotate(0 129.5 118.8)" fill="#d9d9d9" opacity="0.95" filter="url(#b3)"/>
<ellipse cx="154.5" cy="85.8" rx="7" ry="9" transform="rotate(0 154.5 85.8)" fill="#9e9e9e" opacity="0.8" filter="url(#b3)"/>
<ellipse cx="162.5" cy="104.8" rx="3" ry="8" transform="rotate(0 162.5 104.8)" fill="#404040" opacity="0.6" filter="url(#b3)"/>
<ellipse cx="156.5" cy="116.8" rx="7" ry="6" transform="rotate(0 156.5 116.8)" fill="#949494" opacity="0.8" filter="url(#b3)"/>
<ellipse cx="112.5" cy="119.8" rx="8" ry="5" transform="rotate(0 112.5 119.8)" fill="#333333" opacity="0.8" filter="url(#b3)"/>
<ellipse cx="83.5" cy="114.8" rx="4" ry="9" transform="rotate(0 83.5 114.8)" fill="#383838" opacity="0.8" filter="url(#b3)"/>
<ellipse cx="144.5" cy="66.8" rx="14" ry="7" transform="rotate(0 144.5 66.8)" fill="#545454" opacity="0.5" filter="url(#b4)"/>
<ellipse cx="144.5" cy="104.8" rx="6" ry="6" transform="rotate(0 144.5 104.8)" fill="#808080" opacity="0.5" filter="url(#b3)"/>
</g></g>
<g stroke="#000" stroke-width="1.5" stroke-dasharray="5.5 2.4" fill="none"><path d="M288.2 237.7H356.9"/><path d="M288.2 306H356.9"/><path d="M288.2 237.7V306"/><path d="M356.9 237.7V306"/></g>
<rect x="287.45" y="236.95" width="1.5" height="1.5" fill="#000"/>
<rect x="356.15" y="236.95" width="1.5" height="1.5" fill="#000"/>
<rect x="287.45" y="305.25" width="1.5" height="1.5" fill="#000"/>
<rect x="356.15" y="305.25" width="1.5" height="1.5" fill="#000"/>
<ellipse cx="317.6" cy="347.9" rx="1.3" ry="0.7" fill="#fff" stroke="#000" stroke-width="0.5"/>
<rect class="fr" x="241.5" y="225.2" width="164.1" height="124.2"/>
<line class="tk" x1="283.5" y1="349.4" x2="283.5" y2="352.9"/>
<text class="c" x="283.5" y="368.9">205</text>
<line class="tk" x1="326.3" y1="349.4" x2="326.3" y2="352.9"/>
<text class="c" x="326.3" y="368.9">210</text>
<line class="tk" x1="369.1" y1="349.4" x2="369.1" y2="352.9"/>
<text class="c" x="369.1" y="368.9">215</text>
<line class="tk" x1="238" y1="261.4" x2="241.5" y2="261.4"/>
<text class="r" x="234.7" y="268.6">35</text>
<line class="tk" x1="238" y1="304.2" x2="241.5" y2="304.2"/>
<text class="r" x="234.7" y="311.4">30</text>
<line class="tk" x1="238" y1="347.1" x2="241.5" y2="347.1"/>
<text class="r" x="234.7" y="354.3">25</text>
<text x="241.5" y="219.1">(e)</text>
<text class="c" x="323.4" y="388.1">East Longitude</text>
<text class="c" x="323.4" y="405.9">[degree]</text>
<text class="c" transform="translate(190.6,288.6) rotate(-90)">North Latitude</text>
<text class="c" transform="translate(207.8,288.6) rotate(-90)">[degree]</text>
<g clip-path="url(#cpf)"><g filter="url(#virt)"><rect x="493" y="240.4" width="150.6" height="90.3" fill="#000000"/><g transform="translate(494,241.4)"><ellipse cx="74.6" cy="27" rx="18" ry="30" transform="rotate(0 74.6 27)" fill="#ffffff" opacity="0.7" filter="url(#b9)"/>
<ellipse cx="74.6" cy="30.7" rx="9" ry="12" transform="rotate(0 74.6 30.7)" fill="#ffffff" opacity="0.33" filter="url(#b6)"/>
<ellipse cx="47" cy="7" rx="20" ry="12" transform="rotate(35 47 7)" fill="#ffffff" opacity="0.72" filter="url(#b8)"/>
<ellipse cx="9" cy="72" rx="44" ry="15" transform="rotate(52.8 9 72)" fill="#ffffff" opacity="0.66" filter="url(#b8)"/>
<ellipse cx="102" cy="79" rx="20" ry="12" transform="rotate(25 102 79)" fill="#ffffff" opacity="0.66" filter="url(#b8)"/>
<ellipse cx="132" cy="84" rx="20" ry="5" transform="rotate(15 132 84)" fill="#ffffff" opacity="0.48" filter="url(#b5)"/>
<ellipse cx="90" cy="62" rx="7" ry="7" transform="rotate(0 90 62)" fill="#ffffff" opacity="0.3" filter="url(#b5)"/>
<ellipse cx="149" cy="41.5" rx="7" ry="11" transform="rotate(0 149 41.5)" fill="#ffffff" opacity="0.52" filter="url(#b4)"/>
</g></g></g>
<path d="M565.8 272.4h6M568.8 269.4v6" stroke="#1f77b4" stroke-width="1" fill="none"/>
<rect class="fr" x="494" y="241.4" width="148.6" height="88.3"/>
<line class="tk" x1="537.9" y1="329.7" x2="537.9" y2="333.2"/>
<text class="c" x="537.9" y="348.9">−4</text>
<line class="tk" x1="590.9" y1="329.7" x2="590.9" y2="333.2"/>
<text class="c" x="590.9" y="348.9">−2</text>
<line class="tk" x1="490.5" y1="258.4" x2="494" y2="258.4"/>
<text class="r" x="487.2" y="265.6">1</text>
<line class="tk" x1="490.5" y1="284.7" x2="494" y2="284.7"/>
<text class="r" x="487.2" y="291.9">0</text>
<line class="tk" x1="490.5" y1="311.1" x2="494" y2="311.1"/>
<text class="r" x="487.2" y="318.3">−1</text>
<text x="494" y="235.9">(f)</text>
<text class="c" x="568" y="369.9">u [deg hr<tspan dy="-6.2" font-size="11.1px">−1</tspan><tspan dy="6.2">]</tspan></text>
<text class="c" transform="translate(456.3,286.7) rotate(-90)">v [deg hr<tspan dy="-6.2" font-size="11.1px">−1</tspan><tspan dy="6.2">]</tspan></text>
<g filter="url(#vir)"><rect x="646.8" y="241.4" width="7.7" height="88.3" fill="url(#gcb)"/></g>
<rect class="fr" x="646.8" y="241.4" width="7.7" height="88.3"/>
<line class="tk" x1="654.5" y1="241.4" x2="658" y2="241.4"/>
<text x="660.8" y="248.9">1.0</text>
<line class="tk" x1="654.5" y1="285.55" x2="658" y2="285.55"/>
<text x="660.8" y="293.05">0.5</text>
<line class="tk" x1="654.5" y1="329.7" x2="658" y2="329.7"/>
<text x="660.8" y="337.2">0.0</text>
</svg></body></html>
